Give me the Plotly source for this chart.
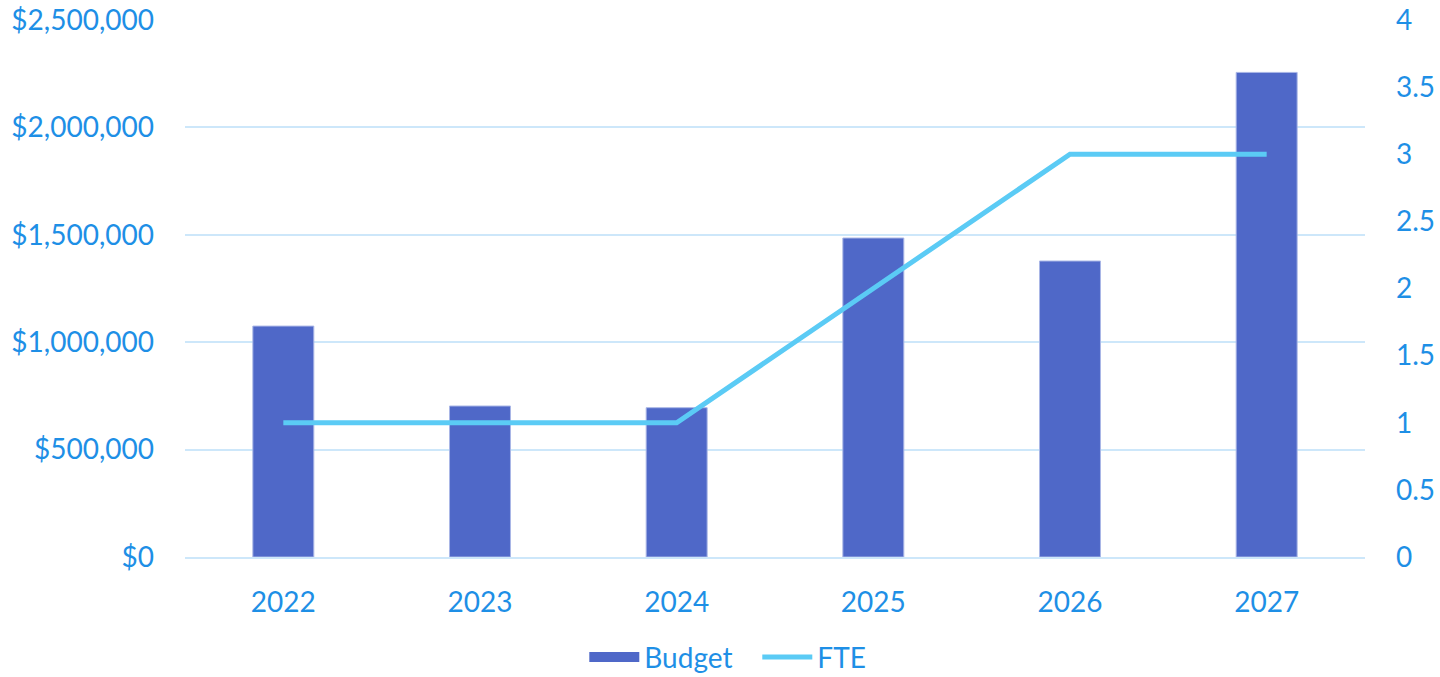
import plotly.graph_objects as go

years = ["2022", "2023", "2024", "2025", "2026", "2027"]
budget = [1075000, 703000, 695000, 1485000, 1378000, 2256000]
fte = [1, 1, 1, 2, 3, 3]

text_color = "#1E8FE6"
bar_color = "#4F68C8"
line_color = "#5BCBF5"
font = dict(family="Lato, Open Sans, sans-serif", size=28, color=text_color)

fig = go.Figure()
fig.add_trace(go.Bar(
    x=years, y=budget, name="Budget", showlegend=False,
    marker=dict(color=bar_color, line=dict(color="#A9B6E6", width=1)),
    width=0.31, yaxis="y",
))
# legend entry styled as wide rectangle (like the reference)
fig.add_trace(go.Scatter(
    x=[None], y=[None], name="Budget", mode="lines",
    line=dict(color=bar_color, width=18), yaxis="y", hoverinfo="skip",
))
fig.add_trace(go.Scatter(
    x=years, y=fte, name="FTE", mode="lines",
    line=dict(color=line_color, width=5),
    yaxis="y2",
))

fig.update_layout(
    margin=dict(l=185, r=75, t=20, b=120, autoexpand=False),
    paper_bgcolor="white", plot_bgcolor="white",
    font=font,
    showlegend=True,
    legend=dict(orientation="h", x=0.485, xanchor="center", y=-0.14, yanchor="top",
                font=font, itemwidth=50, traceorder="normal", entrywidth=108),
    xaxis=dict(showgrid=False, showline=True, linecolor="#CDE7FA", linewidth=1.5,
               ticks="", ticklabelstandoff=20, tickfont=font, automargin=False),
    yaxis=dict(range=[0, 2500000], dtick=500000, tickformat="$,.0f",
               showgrid=True, gridcolor="#CDE7FA", gridwidth=1.5, zeroline=False,
               ticks="", ticklabelstandoff=30, tickfont=font, automargin=False),
    yaxis2=dict(range=[0, 4], dtick=0.5, overlaying="y", side="right",
                showgrid=False, zeroline=False, ticks="", ticklabelstandoff=30,
                tickfont=font, automargin=False),
    bargap=0.69,
)

post = (
    "document.documentElement.style.margin='0';"
    "document.body.style.margin='0';"
    "document.body.style.overflow='hidden';"
    "var gd=document.getElementById('{plot_id}');"
    "gd.parentElement.style.height='100vh';gd.style.height='100vh';gd.style.width='100vw';"
    "Plotly.Plots.resize(gd);"
)
fig.write_html("out.html", post_script=post, config={"displayModeBar": False})
